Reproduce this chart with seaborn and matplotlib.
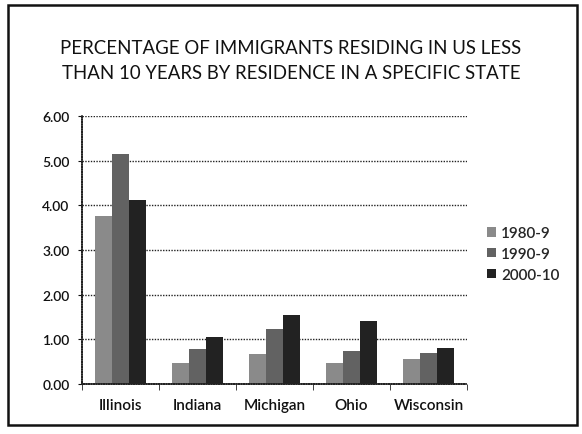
import matplotlib
matplotlib.use("Agg")
import matplotlib.pyplot as plt
import seaborn as sns
import pandas as pd
from matplotlib.patches import Rectangle
from matplotlib.ticker import FormatStrFormatter

states = ["Illinois", "Indiana", "Michigan", "Ohio", "Wisconsin"]
periods = ["1980-9", "1990-9", "2000-10"]
v1980 = [3.77, 0.46, 0.67, 0.46, 0.57]
v1990 = [5.15, 0.78, 1.23, 0.75, 0.69]
v2000 = [4.12, 1.05, 1.54, 1.42, 0.80]
title = "PERCENTAGE OF IMMIGRANTS RESIDING IN US LESS\nTHAN 10 YEARS BY RESIDENCE IN A SPECIFIC STATE"

rows = []
for p, vals in zip(periods, [v1980, v1990, v2000]):
    for s, v in zip(states, vals):
        rows.append({"State": s, "Period": p, "Value": v})
df = pd.DataFrame(rows)

sns.set_style("white")
plt.rcParams["font.family"] = ["Lato", "DejaVu Sans"]

fig = plt.figure(figsize=(5.82, 4.35), dpi=100)
ax = fig.add_axes([82/582, 1-385/435, (467-82)/582, (385-117)/435])

palette = {"1980-9": "#8a8a8a", "1990-9": "#626262", "2000-10": "#222222"}
sns.barplot(data=df, x="State", y="Value", hue="Period", order=states,
            hue_order=periods, palette=palette, width=0.67, gap=0,
            saturation=1, edgecolor="none", ax=ax, errorbar=None)

ax.set_ylim(0, 6)
ax.set_yticks([0, 1, 2, 3, 4, 5, 6])
ax.yaxis.set_major_formatter(FormatStrFormatter("%.2f"))
ax.grid(axis="y", linestyle=(0, (1, 1)), color="#222222", linewidth=1)
ax.set_axisbelow(True)
ax.set_xlabel("")
ax.set_ylabel("")
for side in ["top", "right"]:
    ax.spines[side].set_visible(False)
for side in ["left", "bottom"]:
    ax.spines[side].set_color("#222222")
    ax.spines[side].set_linestyle((0, (1, 0.5)))
    ax.spines[side].set_linewidth(1.2)
ax.tick_params(axis="y", length=3, labelsize=10, colors="#111111", left=True, pad=6)
ax.tick_params(axis="x", length=0, labelsize=11, colors="#111111", pad=10)
for lab in ax.get_yticklabels() + ax.get_xticklabels():
    lab.set_fontweight("semibold")
ax.set_xticks([i - 0.5 for i in range(6)], minor=True)
ax.tick_params(axis="x", which="minor", length=4, color="#222222", bottom=True)
ax.set_xlim(-0.5, 4.5)

handles, labels = ax.get_legend_handles_labels()
leg = ax.legend(handles, labels, loc="center left", bbox_to_anchor=(473/582, 1-255/435),
                bbox_transform=fig.transFigure, frameon=False, fontsize=11,
                handlelength=0.6, handleheight=0.6, handletextpad=0.35, labelspacing=0.45)
for t in leg.get_texts():
    t.set_fontweight("semibold")

fig.text(0.5, 1-61/435, title, ha="center", va="center", fontsize=13.4,
         color="#111111", linespacing=1.55)

fig.patches.append(Rectangle((8/582, 1-426/435), (577-8)/582, (426-6)/435,
                             transform=fig.transFigure, fill=False,
                             edgecolor="#111111", linewidth=1.8))

fig.savefig("out.png", dpi=100)
